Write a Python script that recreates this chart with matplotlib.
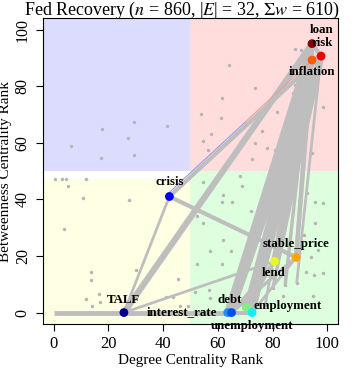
import matplotlib
matplotlib.use("Agg")
import matplotlib.pyplot as plt
from matplotlib.patches import Rectangle

plt.rcParams['font.family'] = ['Liberation Serif', 'DejaVu Serif']
plt.rcParams['mathtext.fontset'] = 'stix'

# labelled nodes: name, degree rank, betweenness rank, colour
node_names = ["TALF", "crisis", "interest_rate", "debt", "employment", "unemployment",
              "lend", "stable_price", "inflation", "risk", "loan", "g0"]
node_x = [25.7, 42.3, 63.6, 65.0, 70.4, 72.5, 80.7, 88.6, 94.4, 97.7, 94.4, 0.0]
node_y = [0.0, 41.0, 0.0, 0.0, 1.8, 0.0, 18.1, 19.5, 89.2, 90.6, 95.0, 0.0]
node_colors = ["#00008B", "#0000F0", "#1E90FF", "#0050E8", "#80F080", "#10EEF8",
               "#E8F81E", "#FFA500", "#FF5A00", "#EE0000", "#8B0000", "#BEBEBE"]

# label positions
lab_x = [25.5, 42.3, 59.6, 64.5, 85.4, 72.4, 80.5, 88.5, 94.3, 98.0, 98.0]
lab_y = [4.6, 46.0, 0.0, 4.6, 2.2, -4.8, 13.9, 24.2, 85.0, 95.3, 100.0]
lab_ha = ["center", "center", "right", "center", "center", "center",
          "center", "center", "center", "center", "center"]

# other (unlabelled) words
gray_x = [29.5, 17.7, 41.4, 27.1, 6.2, 17.4, 29.2,
          88.0, 90.4, 64.0, 73.4, 61.7, 86.0, 88.8, 87.6, 53.8, 61.0, 57.6, 54.6, 69.3,
          56.5, 81.5, 98.3, 76.2, 73.6, 78.1, 80.8, 94.4, 88.1, 72.5,
          0.6, 3.2, 4.6, 5.4, 11.7, 10.8, 27.5, 3.8, 13.6, 13.6, 30.2, 12.0, 16.6, 16.8,
          13.9, 45.3, 41.0, 43.8, 46.2, 49.2,
          54.7, 68.1, 68.8, 62.0, 61.6, 65.1, 72.2, 76.6, 92.5, 95.5, 98.5, 52.3, 54.4,
          62.0, 57.2, 64.9, 52.3, 61.7, 71.8, 95.5, 91.5, 96.7, 93.9, 92.2, 95.1, 98.5,
          84.6, 88.8, 80.1, 94.9, 56.6, 51.7, 57.2, 77.3, 83.9, 79.7, 74.2, 68.8]
gray_y = [67.2, 64.9, 66.0, 61.8, 58.7, 54.5, 55.7,
          93.2, 92.7, 87.3, 79.2, 75.7, 82.9, 78.5, 77.4, 70.3, 68.9, 63.0, 60.6, 61.3,
          57.5, 70.7, 72.6, 64.2, 59.9, 58.3, 57.6, 56.4, 80.4, 54.3,
          47.2, 47.2, 47.2, 44.8, 47.2, 40.6, 39.9, 29.6, 14.5, 11.6, 15.1, 4.8, 6.6, 3.7,
          2.4, 12.0, 5.6, 5.6, 2.4, 2.4,
          46.0, 48.4, 44.8, 41.5, 39.2, 39.2, 36.0, 41.0, 42.2, 39.0, 38.7, 34.0, 31.6,
          25.7, 21.6, 21.6, 17.2, 17.2, 20.4, 31.6, 27.4, 22.2, 19.6, 14.5, 13.3, 13.9,
          9.8, 10.4, 8.6, 5.7, 8.0, 7.4, 5.1, 2.7, 5.7, 15.1, 15.1, 10.4]

# edges between named nodes, with weights
edge_a = ["loan", "risk", "loan", "risk", "inflation", "loan", "risk", "inflation",
          "loan", "risk", "inflation", "loan", "risk", "inflation", "loan", "risk",
          "TALF", "TALF", "crisis", "g0", "TALF", "interest_rate", "debt", "employment",
          "unemployment", "debt", "loan", "risk", "loan", "inflation", "loan", "risk"]
edge_b = ["TALF", "crisis", "interest_rate", "debt", "employment", "unemployment",
          "lend", "stable_price", "stable_price", "unemployment", "interest_rate", "lend",
          "employment", "debt", "g8", "g9",
          "lend", "crisis", "stable_price", "TALF", "interest_rate", "unemployment",
          "stable_price", "lend", "stable_price", "lend", "g10", "g11",
          "risk", "risk", "inflation", "crisis"]
edge_w = [4.5, 3.0, 5.0, 4.0, 4.0, 5.0, 5.0, 3.0, 3.0, 4.0, 3.0, 3.0,
          3.0, 3.0, 2.5, 2.5, 2.0, 2.0, 3.0, 3.5, 3.5, 3.0, 2.5, 2.5,
          2.0, 2.0, 2.0, 2.0, 3.0, 3.0, 3.0, 0.8]

extra = {"g8": (84.6, 9.8), "g9": (80.1, 8.6), "g10": (77.3, 2.7), "g11": (88.8, 10.4)}
pos = {n: (x, y) for n, x, y in zip(node_names, node_x, node_y)}
pos.update(extra)

fig = plt.figure(figsize=(3.58, 3.71), dpi=100)
ax = fig.add_axes([0.119, 0.127, 0.826, 0.824])
ax.set_xlim(-4, 104)
ax.set_ylim(-4, 104)

# quadrants
ax.add_patch(Rectangle((-4, 50), 54, 54, color="#DCDCFF", zorder=0, lw=0))
ax.add_patch(Rectangle((50, 50), 54, 54, color="#FFDDDD", zorder=0, lw=0))
ax.add_patch(Rectangle((-4, -4), 54, 51.2, color="#FFFFE4", zorder=0, lw=0))
ax.add_patch(Rectangle((50, -4), 54, 54, color="#DEFFDE", zorder=0, lw=0))

ax.scatter(gray_x, gray_y, s=6, color="#B4B4B4", zorder=1, lw=0)

for a, b, w in zip(edge_a, edge_b, edge_w):
    xa, ya = pos[a]
    xb, yb = pos[b]
    if w < 1:
        # thin coloured edge, blue half then red half
        mx, my = (xa + xb) / 2, (ya + yb) / 2
        ax.plot([xb, mx], [yb + 1.5, my + 1.5], color="#9A9AF0", lw=w, zorder=2)
        ax.plot([mx, xa], [my + 1.5, ya + 1.5], color="#F09A9A", lw=w, zorder=2)
    else:
        ax.plot([xa, xb], [ya, yb], color="#BEBEBE", lw=w, zorder=2,
                solid_capstyle="butt")

ax.scatter(node_x[:-1], node_y[:-1], s=40, c=node_colors[:-1], zorder=3, lw=0)

for i in range(len(lab_x)):
    ax.text(lab_x[i], lab_y[i], node_names[i], ha=lab_ha[i], va="center",
            fontsize=9.3, fontweight="bold", zorder=4, clip_on=False)

ax.set_xticks([0, 20, 40, 60, 80, 100])
ax.set_yticks([0, 20, 40, 60, 80, 100])
ax.tick_params(axis="x", labelsize=12, length=5, direction="out")
ax.tick_params(axis="y", labelsize=11.5, length=5, direction="out")
for lab in ax.get_yticklabels():
    lab.set_rotation(90)
    lab.set_va("center")
ax.set_xlabel("Degree Centrality Rank", fontsize=11, labelpad=2)
ax.set_ylabel("Betweenness Centrality Rank", fontsize=11, labelpad=2)
fig.text(0.508, 0.96, r"Fed Recovery ($n$ = 860, |$E$| = 32, $\Sigma w$ = 610)",
         fontsize=13, ha="center", va="baseline")

plt.savefig("out.png", dpi=100)
